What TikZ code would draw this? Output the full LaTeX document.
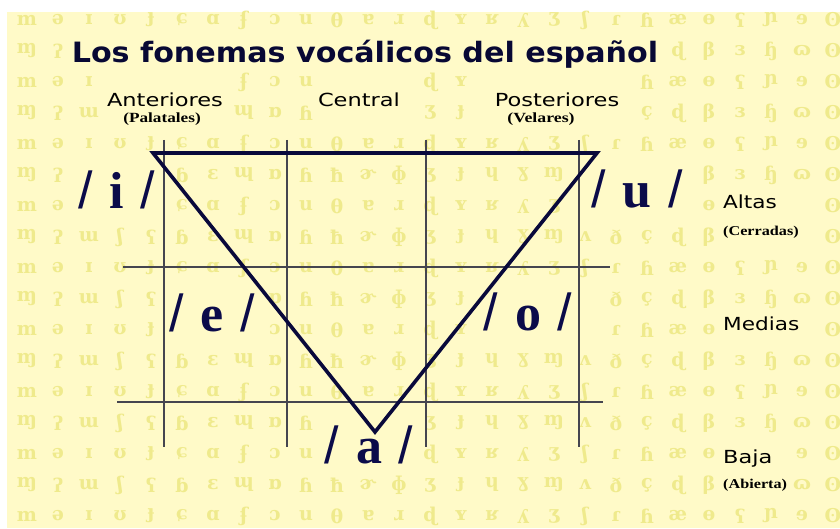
\documentclass[tikz,border=0pt]{standalone}
\usepackage{graphicx}
\usepackage{fontspec}
\setmainfont{Liberation Serif}
\newfontfamily\dejasans{DejaVu Sans}
\newfontfamily\libsans{Liberation Sans}
\newfontfamily\ipafont{DejaVu Serif}
\definecolor{bgyellow}{HTML}{FFFAC8}
\definecolor{symyellow}{HTML}{EFEA8C}
\definecolor{navy}{HTML}{0B0B4A}
\definecolor{gridgray}{HTML}{45454F}
\tikzset{
  gridline/.style={draw=gridgray, line width=1.3pt},
  tri/.style={draw=navy!80!black, line width=3.6pt, line join=miter},
  header/.style={anchor=base, font=\dejasans\fontsize{18}{18}\selectfont, text=black, inner sep=0pt},
  sublabel/.style={anchor=base, font=\bfseries\fontsize{14}{14}\selectfont, text=black, inner sep=0pt},
  sidelabel/.style={anchor=base west, font=\dejasans\fontsize{18}{18}\selectfont, text=black, inner sep=0pt},
  sidesub/.style={anchor=base west, font=\bfseries\fontsize{13.5}{14}\selectfont, text=black, inner sep=0pt},
  vowel/.style={anchor=base, text=navy, inner sep=0pt, font=\fontsize{52}{52}\selectfont},
  ipasym/.style={text=symyellow, font=\ipafont\bfseries\fontsize{19}{20}\selectfont, inner sep=0pt}
}
\newcommand\vowlabel[1]{{\libsans/}\hspace{0.32em}{\bfseries #1}\hspace{0.32em}{\libsans/}}
\newcommand\wide[2]{\scalebox{#1}[1]{#2}}
\newcommand\inbox[4]{(\px>#1 && \px<#2 && \py>#3 && \py<#4)}
\newcommand\freespot{%
  \pgfmathtruncatemacro\busy{\inbox{62}{668}{28}{80} || \inbox{97}{232}{80}{139} || \inbox{308}{409}{80}{122} || \inbox{483}{632}{80}{139}
   || \inbox{67}{167}{163}{224} || \inbox{578}{697}{163}{224} || \inbox{157}{268}{285}{347} || \inbox{470}{587}{285}{347}
   || \inbox{312}{427}{418}{479} || \inbox{713}{810}{184}{252} || \inbox{713}{810}{305}{343} || \inbox{713}{800}{438}{502}}%
}
\begin{document}
\begin{tikzpicture}[x=1pt,y=-1pt]
\useasboundingbox (0,0) rectangle (840,529);
\fill[white] (0,0) rectangle (840,529);
\fill[bgyellow] (7,12) rectangle (840,528);
% faint IPA background pattern
\foreach \r in {0,2,...,16}{
  \foreach \s [count=\i] in {m,ə,ɪ,ʊ,ɟ,ɕ,ɑ,ʄ,ɔ,u,θ,ɐ,ɹ,ɖ,ʏ,ʁ,ʎ,ʒ,ʃ,ɾ,ɦ,æ,ɵ,ʕ,ɲ,ɘ,ʘ}{
    \pgfmathsetmacro\px{-4+31*\i}\pgfmathsetmacro\py{20+31*\r}\freespot
    \ifnum\busy=0 \node[ipasym] at (\px,\py) {\s};\fi
  }
}
\foreach \r in {1,3,...,15}{
  \foreach \s [count=\i] in {ɱ,ʔ,ɯ,ʃ,ʕ,ɓ,ɛ,ɰ,ɒ,ɦ,ħ,ɚ,ɸ,ʒ,ɟ,ɥ,ɣ,ɱ,ʌ,ð,ç,ɖ,β,ɜ,ɧ,ɷ,ʘ}{
    \pgfmathsetmacro\px{-4+31*\i}\pgfmathsetmacro\py{20+31*\r}\freespot
    \ifnum\busy=0 \node[ipasym] at (\px,\py) {\s};\fi
  }
}
% title
\node[anchor=base, inner sep=0pt, text=navy!70!black, font=\dejasans\bfseries\fontsize{28}{28}\selectfont] (title) at (365,63) {\wide{1.077}{Los fonemas vocálicos del español}};
% headers
\node[header] (ant) at (165,107) {\wide{1.25}{Anteriores}};
\node[sublabel] (pal) at (162,123) {\wide{1.23}{(Palatales)}};
\node[header] (cen) at (359,107) {\wide{1.25}{Central}};
\node[header] (pos) at (557,107) {\wide{1.25}{Posteriores}};
\node[sublabel] (vel) at (541,123) {\wide{1.27}{(Velares)}};
% grid
\draw[gridline] (164,140) -- (164,447);
\draw[gridline] (287,140) -- (287,447);
\draw[gridline] (426,140) -- (426,447);
\draw[gridline] (579,140) -- (579,447);
\draw[gridline] (123,267) -- (610,267);
\draw[gridline] (117,402) -- (603,402);
% triangle
\coordinate (tl) at (153,153);
\coordinate (tr) at (597,153);
\coordinate (ap) at (375,432);
\draw[tri] (tl) -- (tr) -- (ap) -- cycle;
% vowels
\node[vowel] (vi) at (117,209) {\vowlabel{i}};
\node[vowel] (vu) at (637,208) {\vowlabel{u}};
\node[vowel] (ve) at (212,331) {\vowlabel{e}};
\node[vowel] (vo) at (528,330) {\vowlabel{o}};
\node[vowel] (va) at (369,463) {\vowlabel{a}};
% side labels
\node[sidelabel] (alt) at (723,209) {\wide{1.2}{Altas}};
\node[sidesub] (cer) at (723,236) {\wide{1.2}{(Cerradas)}};
\node[sidelabel] (med) at (723,330) {\wide{1.2}{Medias}};
\node[sidelabel] (baj) at (723,463) {\wide{1.25}{Baja}};
\node[sidesub] (abi) at (723,488) {\wide{1.2}{(Abierta)}};
\end{tikzpicture}
\end{document}
